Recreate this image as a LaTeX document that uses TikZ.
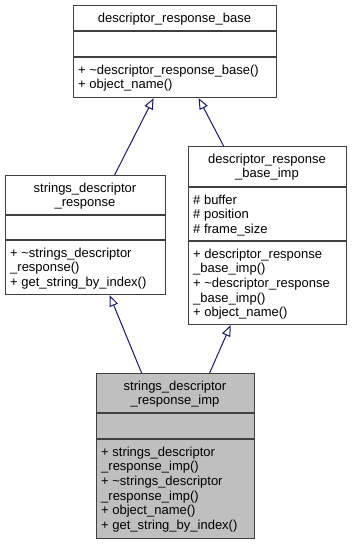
\documentclass[tikz,border=0pt]{standalone}
\usepackage{fontspec}
\setmainfont{Liberation Sans}
\usetikzlibrary{arrows.meta}
\definecolor{edge}{HTML}{191970}
\definecolor{frame}{HTML}{404040}
\definecolor{hl}{HTML}{BFBFBF}
% strut that fixes the height of the first text line
\newcommand{\fl}{\rule{0pt}{10pt}}
\begin{document}
\begin{tikzpicture}[x=1pt,y=-1pt,
  cls/.style={draw=frame, line width=1.2pt, inner sep=0pt, anchor=north west},
  sep/.style={draw=frame, line width=1.2pt},
  ttl/.style={inner sep=0pt, align=center, anchor=north, font=\fontsize{13}{14.6}\selectfont},
  mbr/.style={inner sep=0pt, align=left, anchor=north west, font=\fontsize{13}{14.6}\selectfont},
  inherit/.style={draw=edge, line width=1pt, -{Triangle[fill=white, length=11pt, width=9pt]}}]
\fill[white] (0,0) rectangle (352,544);
\useasboundingbox (0,0) rectangle (352,544);

% descriptor_response_base
\node[cls, minimum width=203pt, minimum height=92pt] (base) at (73,5) {};
\draw[sep] (73,31) -- (276,31);
\draw[sep] (73,57) -- (276,57);
\node[ttl] (baseT) at (174.5,12) {\fl descriptor\_response\_base};
\node[mbr] (baseM) at (78,64) {\fl + \textasciitilde descriptor\_response\_base()\\+ object\_name()};

% strings_descriptor_response
\node[cls, minimum width=160pt, minimum height=119pt] (sdr) at (5,175) {};
\draw[sep] (5,215) -- (165,215);
\draw[sep] (5,240) -- (165,240);
\node[ttl] (sdrT) at (85,182) {\fl strings\_descriptor\\\_response};
\node[mbr] (sdrM) at (10,247) {\fl + \textasciitilde strings\_descriptor\\\_response()\\+ get\_string\_by\_index()};

% descriptor_response_base_imp
\node[cls, minimum width=158pt, minimum height=178pt] (drbi) at (188,146) {};
\draw[sep] (188,187) -- (346,187);
\draw[sep] (188,241) -- (346,241);
\node[ttl] (drbiT) at (267,153) {\fl descriptor\_response\\\_base\_imp};
\node[mbr] (drbiA) at (193,194) {\fl \# buffer\\\# position\\\# frame\_size};
\node[mbr] (drbiM) at (193,248) {\fl + descriptor\_response\\\_base\_imp()\\+ \textasciitilde descriptor\_response\\\_base\_imp()\\+ object\_name()};

% strings_descriptor_response_imp
\node[cls, fill=hl, minimum width=158pt, minimum height=165pt] (sdri) at (96,373) {};
\draw[sep] (96,413) -- (254,413);
\draw[sep] (96,439) -- (254,439);
\node[ttl] (sdriT) at (175,380) {\fl strings\_descriptor\\\_response\_imp};
\node[mbr] (sdriM) at (101,446) {\fl + strings\_descriptor\\\_response\_imp()\\+ \textasciitilde strings\_descriptor\\\_response\_imp()\\+ object\_name()\\+ get\_string\_by\_index()};

% inheritance
\draw[inherit] ([xshift=29pt]sdr.north) -- ([xshift=-21.5pt]base.south);
\draw[inherit] ([xshift=-44pt]drbi.north) -- ([xshift=23.5pt]base.south);
\draw[inherit] ([xshift=-34pt]sdri.north) -- ([xshift=24pt]sdr.south);
\draw[inherit] ([xshift=34pt]sdri.north) -- ([xshift=-37pt]drbi.south);
\end{tikzpicture}
\end{document}
